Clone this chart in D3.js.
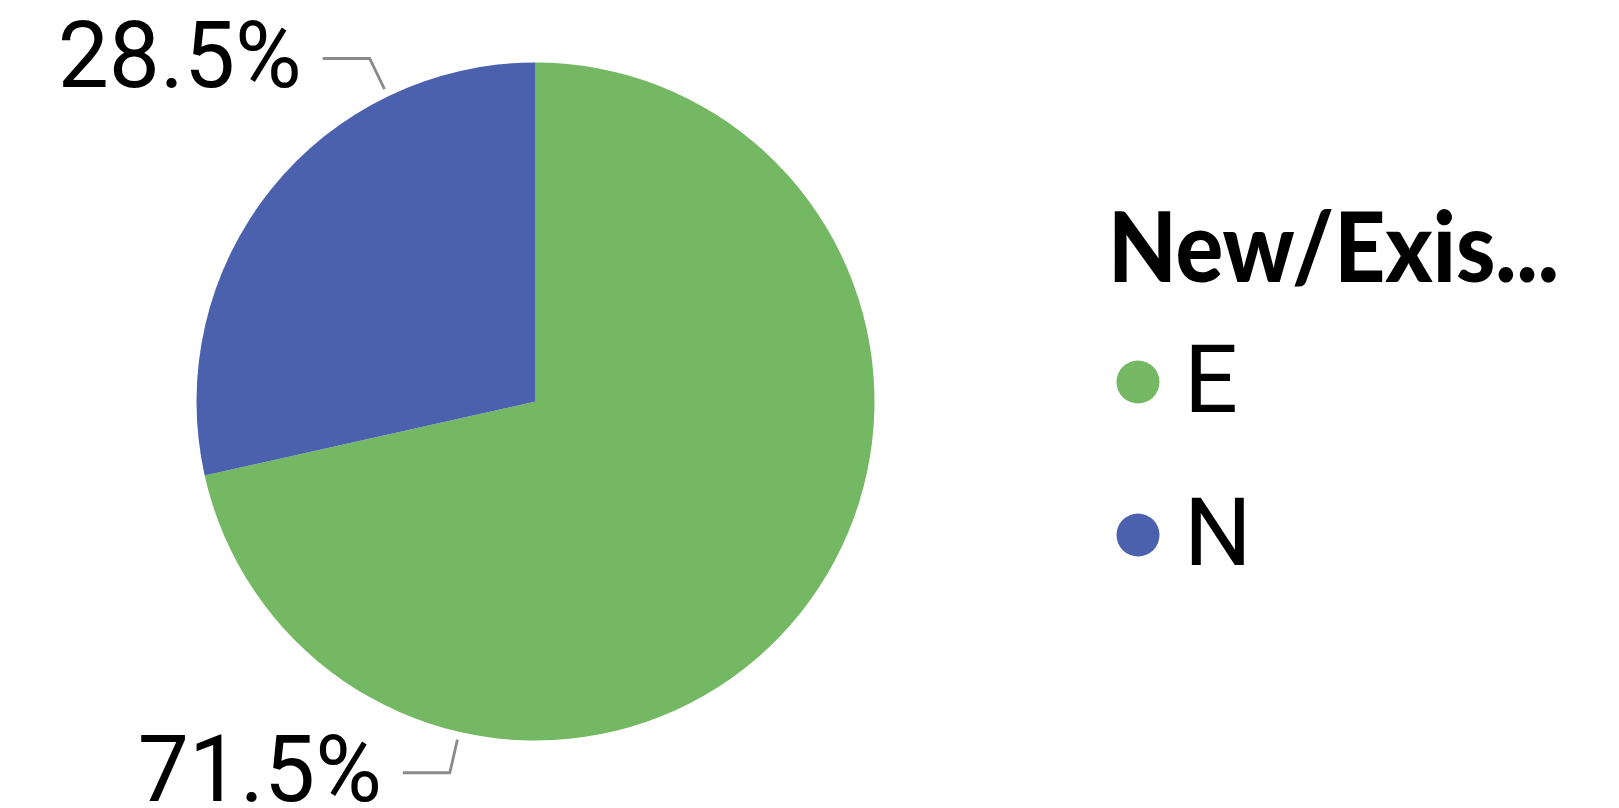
<!DOCTYPE html>
<html>
<head>
<meta charset="utf-8">
<script src="https://cdn.jsdelivr.net/npm/d3@7"></script>
<style>
  html, body { margin: 0; padding: 0; background: #ffffff; }
  svg { display: block; }
</style>
</head>
<body>
<svg id="chart" width="1619" height="808"></svg>
<script>
// Share of records by New/Existing flag
const categories = ["E", "N"];
const shares = [71.5, 28.5];
const legendTitle = "New/Exis...";
const colors = ["#74b863", "#4b61ad"];

// Label placement: angle (degrees, clockwise from 12 o'clock) of each leader elbow
const elbowAngles = [193, 334.2];

const W = 1619, H = 808;
const cx = 535.5, cy = 401.5, R = 339;

const svg = d3.select("#chart");

const data = categories.map((c, i) => ({ cat: c, value: shares[i], color: colors[i] }));

const pie = d3.pie().sort(null).value(d => d.value);
const arc = d3.arc().innerRadius(0).outerRadius(R);
const arcs = pie(data);

const g = svg.append("g").attr("transform", `translate(${cx},${cy})`);

g.selectAll("path.slice")
  .data(arcs)
  .join("path")
  .attr("class", "slice")
  .attr("d", arc)
  .attr("fill", d => d.data.color);

// Leader lines and percentage labels
const fmt = v => d3.format(".1f")(v) + "%";
const polar = (deg, rad) => {
  const a = deg * Math.PI / 180;
  return [rad * Math.sin(a), -rad * Math.cos(a)];
};

arcs.forEach((d, i) => {
  const ang = elbowAngles[i];
  const inner = polar(ang, R + 8);
  const elbow = polar(ang, R + 42);
  const start = [elbow[0] - 47, elbow[1]];
  g.append("polyline")
    .attr("points", [start, elbow, inner].map(p => p.join(",")).join(" "))
    .attr("fill", "none")
    .attr("stroke", "#8a8a8a")
    .attr("stroke-width", 2.8);

  g.append("text")
    .attr("x", start[0] - 21)
    .attr("y", elbow[1] + 28.5)
    .attr("text-anchor", "end")
    .attr("font-family", "Roboto, 'DejaVu Sans', sans-serif")
    .attr("font-size", 93)
    .attr("fill", "#000")
    .attr("textLength", 244)
    .attr("lengthAdjust", "spacingAndGlyphs")
    .text(fmt(d.data.value));
});

// Legend
const legend = svg.append("g").attr("transform", "translate(1108,0)");

legend.append("text")
  .attr("x", 0)
  .attr("y", 282)
  .attr("font-family", "Lato, 'Open Sans', sans-serif")
  .attr("font-weight", 900)
  .attr("font-size", 98)
  .attr("fill", "#000")
  .attr("textLength", 451)
  .attr("lengthAdjust", "spacingAndGlyphs")
  .text(legendTitle);

const items = legend.selectAll("g.item")
  .data(data)
  .join("g")
  .attr("class", "item")
  .attr("transform", (d, i) => `translate(0,${382 + i * 153})`);

items.append("circle")
  .attr("cx", 30)
  .attr("cy", 0)
  .attr("r", 21.5)
  .attr("fill", d => d.color);

items.append("text")
  .attr("x", 76)
  .attr("y", 30)
  .attr("font-family", "Roboto, 'DejaVu Sans', sans-serif")
  .attr("font-size", 95)
  .attr("fill", "#000")
  .text(d => d.cat);
</script>
</body>
</html>
